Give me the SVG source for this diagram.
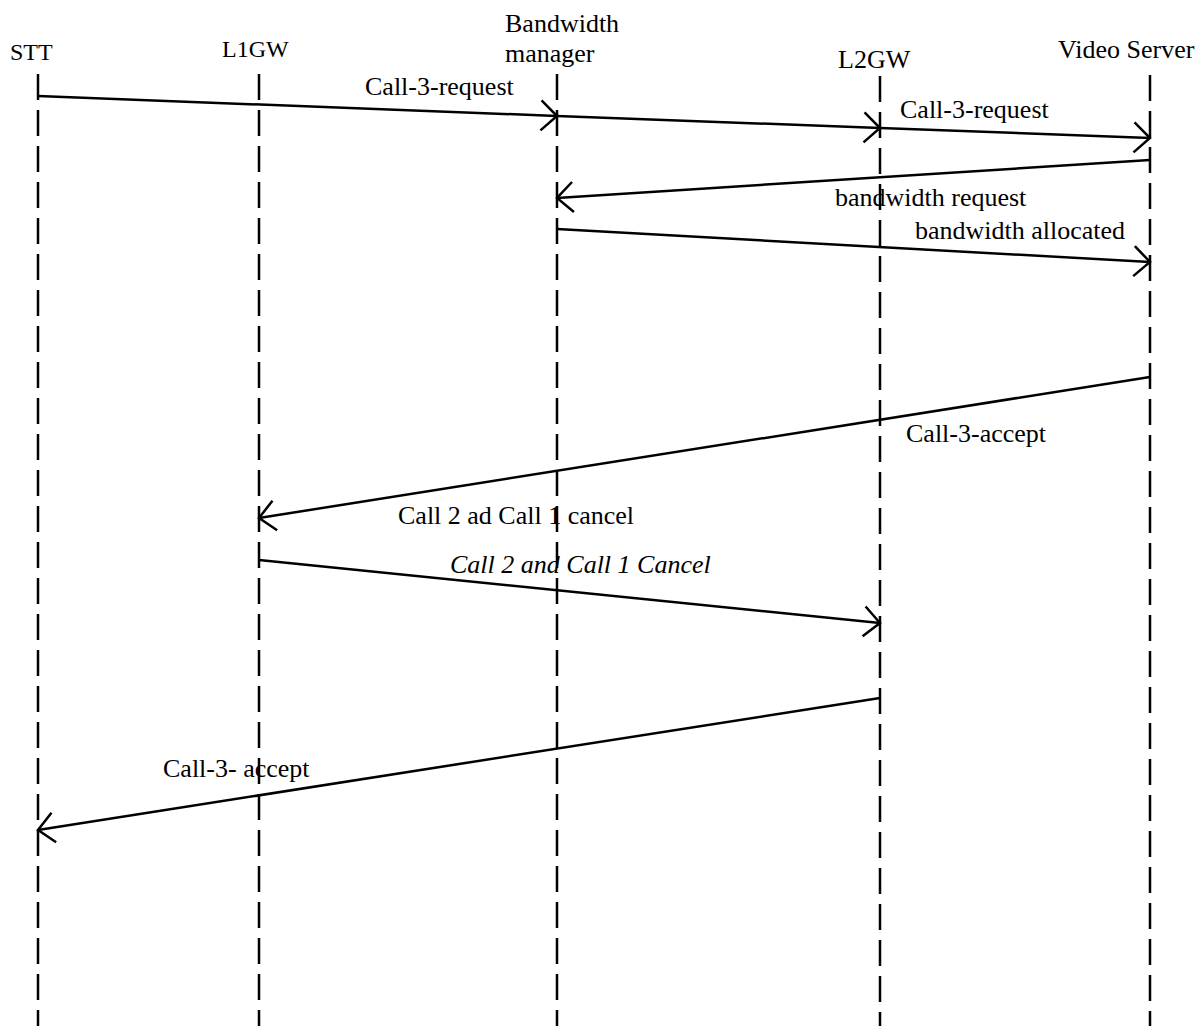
<svg xmlns="http://www.w3.org/2000/svg" width="1202" height="1026" viewBox="0 0 1202 1026">
<style>
text{font-family:"Liberation Serif","Times New Roman",serif;font-size:26px;fill:#000}
.hd{font-size:24px}
.it{font-style:italic}
.life{stroke:#000;stroke-width:2.5;stroke-dasharray:26 10;fill:none}
.msg{stroke:#000;stroke-width:2.5;fill:none;marker-end:url(#arr)}
</style>
<defs>
<marker id="arr" markerUnits="userSpaceOnUse" markerWidth="40" markerHeight="40" refX="0" refY="0" viewBox="-20 -20 25 40" orient="auto" overflow="visible">
<path d="M-16,-15 L0,0 L-16,15" fill="none" stroke="#000" stroke-width="2.5"/>
</marker>
</defs>
<rect width="1202" height="1026" fill="#fff"/>
<g id="node-stt"><text class="hd" x="10" y="60">STT</text><line class="life" x1="38" y1="74" x2="38" y2="1026"/></g>
<g id="node-l1gw"><text class="hd" x="222" y="57">L1GW</text><line class="life" x1="259" y1="74" x2="259" y2="1026"/></g>
<g id="node-bm"><text x="505" y="32">Bandwidth</text><text x="505" y="62">manager</text><line class="life" x1="557" y1="74" x2="557" y2="1026"/></g>
<g id="node-l2gw"><text x="838" y="68">L2GW</text><line class="life" x1="880" y1="76" x2="880" y2="1026"/></g>
<g id="node-vs"><text x="1058" y="58">Video Server</text><line class="life" x1="1150" y1="75" x2="1150" y2="1026"/></g>
<g id="connectors">
<path class="msg" d="M38,96 L557,116"/>
<path class="msg" d="M557,116 L880,128"/>
<path class="msg" d="M880,128 L1150,138"/>
<path class="msg" d="M1150,160 L557,198"/>
<path class="msg" d="M557,229 L1150,262"/>
<path class="msg" d="M1150,377 L259,518"/>
<path class="msg" d="M259,560 L880,623"/>
<path class="msg" d="M880,698 L38,830"/>
<text x="365" y="95">Call-3-request</text>
<text x="900" y="118">Call-3-request</text>
<text x="835" y="206">bandwidth request</text>
<text x="915" y="239">bandwidth allocated</text>
<text x="906" y="442">Call-3-accept</text>
<text x="398" y="524">Call 2 ad Call 1 cancel</text>
<text class="it" x="450" y="573">Call 2 and Call 1 Cancel</text>
<text x="163" y="777">Call-3- accept</text>
</g>
</svg>
